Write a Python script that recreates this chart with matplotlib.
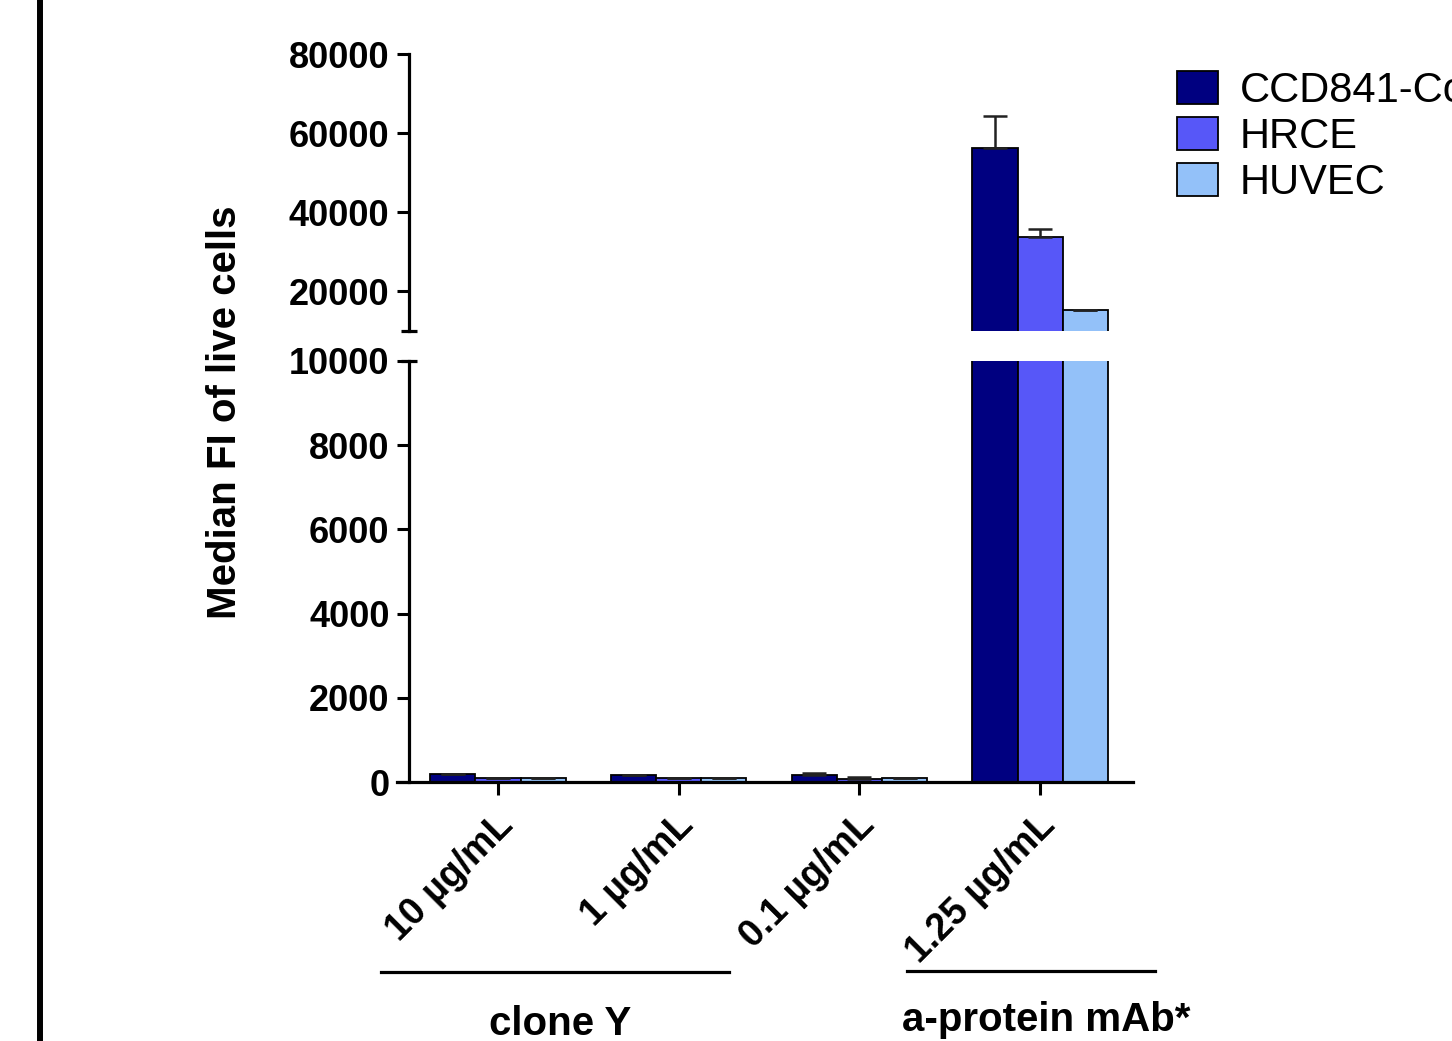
import matplotlib.pyplot as plt
import matplotlib.lines as mlines
from matplotlib.transforms import ScaledTranslation
import numpy as np

# data
concentrations = ['10 µg/mL', '1 µg/mL', '0.1 µg/mL', '1.25 µg/mL']
cell_lines = ['CCD841-CoN', 'HRCE', 'HUVEC']
ccd841 = [190, 160, 160, 56300]
hrce = [100, 100, 70, 33800]
huvec = [100, 100, 100, 15400]
ccd841_err = [0, 0, 60, 8100]
hrce_err = [0, 0, 40, 2000]
huvec_err = [0, 0, 0, 0]
groups = ['clone Y', 'a-protein mAb*']

colors = ['#000080', '#5757F8', '#93C1F9']
W, H = 1452, 1041

plt.rcParams['font.family'] = ['Liberation Sans', 'DejaVu Sans']
fig = plt.figure(figsize=(W / 100, H / 100), dpi=100)

def fx(px):
    return px / W

def fy(py):
    return 1 - py / H

left, right = 397, 1133
ax_low = fig.add_axes([fx(left), fy(782), fx(right - left), fy(361) - fy(782)])
ax_up = fig.add_axes([fx(left), fy(331), fx(right - left), fy(54) - fy(331)])

x = np.arange(len(concentrations))
width = 0.25
series = [ccd841, hrce, huvec]
errs = [ccd841_err, hrce_err, huvec_err]
spine_x = -0.4925

for ax in (ax_low, ax_up):
    for i, (vals, err) in enumerate(zip(series, errs)):
        pos = x + (i - 1) * width
        ax.bar(pos, vals, width, color=colors[i], edgecolor='black', linewidth=1.3,
               label=cell_lines[i], zorder=2)
        ax.errorbar(pos, vals, yerr=[np.zeros(len(err)), err], fmt='none',
                    ecolor='#222222', elinewidth=1.8, capsize=8.5, capthick=1.8, zorder=3)
    ax.set_xlim(-0.559, 3.514)
    ax.spines['top'].set_visible(False)
    ax.spines['right'].set_visible(False)
    ax.spines['left'].set_position(('data', spine_x))
    ax.spines['left'].set_linewidth(2.3)
    ax.tick_params(axis='y', direction='out', length=9, width=2.2, pad=5)

ax_low.set_ylim(0, 10000)
ax_low.set_yticks([0, 2000, 4000, 6000, 8000, 10000])
ax_low.set_yticklabels(['0', '2000', '4000', '6000', '8000', '10000'], fontweight='bold', fontsize=26)
ax_low.spines['bottom'].set_linewidth(2.3)
ax_low.set_xticks(x)
ax_low.tick_params(axis='x', direction='out', length=9, width=2.2, pad=9)
ax_low.set_xticklabels(concentrations, rotation=45, ha='right', va='top',
                       fontweight='bold', fontsize=27)
shift = ScaledTranslation(0.22, 0, fig.dpi_scale_trans)
for lab in ax_low.get_xticklabels():
    lab.set_transform(lab.get_transform() + shift)

ax_up.set_ylim(10000, 80000)
ax_up.set_yticks([20000, 40000, 60000, 80000])
ax_up.set_yticklabels(['20000', '40000', '60000', '80000'], fontweight='bold', fontsize=26)
ax_up.spines['bottom'].set_visible(False)
ax_up.set_xticks([])

# break marks on the y axis
ax_up.plot([spine_x], [10000], marker='_', markersize=12, mew=2.3, color='black', clip_on=False)
ax_low.plot([spine_x], [10000], marker='_', markersize=12, mew=2.3, color='black', clip_on=False)

fig.text(fx(225), fy(412), 'Median FI of live cells', rotation=90, ha='center', va='center',
         fontsize=29, fontweight='bold')

# group brackets under the concentration labels
fig.add_artist(mlines.Line2D([fx(381), fx(729)], [fy(972), fy(972)], color='black', lw=2.3))
fig.add_artist(mlines.Line2D([fx(907), fx(1155)], [fy(971), fy(971)], color='black', lw=2.3))
fig.text(fx(560), fy(1035), groups[0], ha='center', va='baseline', fontsize=29, fontweight='bold')
fig.text(fx(1046), fy(1031), groups[1], ha='center', va='baseline', fontsize=29, fontweight='bold')

# frame line on the far left
fig.add_artist(mlines.Line2D([fx(40), fx(40)], [0, 1], color='black', lw=4.3))

handles, labels = ax_low.get_legend_handles_labels()
fig.legend(handles, labels, loc='upper left', bbox_to_anchor=(fx(1177), fy(71)),
           frameon=False, fontsize=30, handlelength=0.98, handleheight=0.85,
           handletextpad=0.52, labelspacing=0.14, borderpad=0, borderaxespad=0)

plt.savefig('out.png', dpi=100)
